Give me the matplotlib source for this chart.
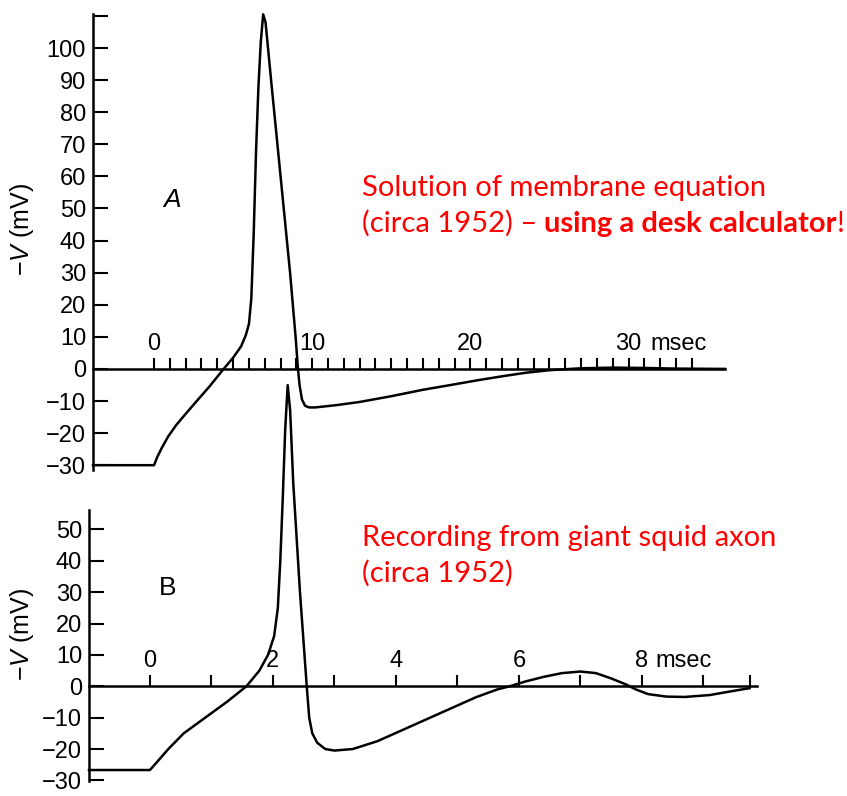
import matplotlib
matplotlib.use("Agg")
import matplotlib.pyplot as plt
from matplotlib.ticker import FixedLocator, FuncFormatter

# panel A: computed action potential (msec, -V in mV)
t_a = [-3.86, 0, 0.2, 0.5, 0.9, 1.4, 2.0, 2.7, 3.5, 4.4, 5.0, 5.5, 5.8, 6.0, 6.15,
       6.3, 6.45, 6.6, 6.75, 6.9, 7.05, 7.4, 7.8, 8.2, 8.6, 8.95, 9.1, 9.2,
       9.35, 9.55, 9.8, 10.2, 11.5, 13, 15, 17, 19, 20.5, 22, 23.5, 25, 27,
       29, 31, 33, 36.1]
v_a = [-30, -30, -27.5, -24.5, -21, -17.5, -14, -10, -5.5, 0, 3.5, 7, 10.5, 14, 22,
       42, 68, 88, 102, 110.5, 108, 90, 70, 50, 30, 10, 0, -5,
       -9.5, -11.5, -12, -12, -11.3, -10.3, -8.5, -6.5, -4.8, -3.5, -2.3, -1.2, -0.4, 0.2,
       0.4, 0.3, 0.1, 0]

# panel B: recorded action potential
t_b = [-0.99, 0, 0.1, 0.3, 0.55, 0.9, 1.25, 1.57, 1.78, 1.92, 2.02, 2.08, 2.12,
       2.16, 2.2, 2.24, 2.28, 2.33, 2.44, 2.55, 2.59, 2.64, 2.72, 2.85, 3.0,
       3.3, 3.7, 4.1, 4.5, 4.9, 5.3, 5.65, 5.85, 6.1, 6.4, 6.7, 7.0, 7.25,
       7.5, 7.75, 7.9, 8.1, 8.4, 8.7, 9.1, 9.45, 9.75]
v_b = [-26.7, -26.7, -24.5, -20, -15, -10, -5, 0, 5, 10, 16, 25, 40,
       60, 82, 96, 88, 65, 30, 0, -10, -15, -18, -20, -20.5,
       -20, -17.5, -14, -10.5, -7, -3.5, -1, 0, 1.5, 3, 4.2, 4.7, 4.2,
       2.5, 0.5, -1, -2.5, -3.3, -3.4, -2.8, -1.6, -0.6]

yticks_a = list(range(-30, 111, 10))
ylabels_a = list(range(-30, 101, 10))
xmajor_a = [0, 10, 20, 30]
yticks_b = list(range(-30, 51, 10))
xmajor_b = [0, 2, 4, 6, 8]

plt.rcParams['font.family'] = ['Liberation Sans', 'DejaVu Sans']
plt.rcParams['mathtext.fontset'] = 'custom'
plt.rcParams['mathtext.it'] = 'Liberation Sans:italic'
plt.rcParams['mathtext.rm'] = 'Liberation Sans'

FS = 17
W, H = 847, 796
fig = plt.figure(figsize=(W / 100, H / 100), dpi=100)


def px_axes(x0, y0, x1, y1):
    # pixel box (left, top, right, bottom) -> figure fraction axes
    return fig.add_axes([x0 / W, 1 - y1 / H, (x1 - x0) / W, (y1 - y0) / H])


def style(ax, yticks, ylabels, xmajor, xminor):
    ax.spines['right'].set_visible(False)
    ax.spines['bottom'].set_visible(False)
    ax.spines['top'].set_position(('data', 0))
    for s in ('top', 'left'):
        ax.spines[s].set_linewidth(1.8)
    ax.xaxis.set_ticks_position('top')
    ax.yaxis.set_ticks_position('left')
    ax.set_xticks(xmajor)
    ax.xaxis.set_minor_locator(FixedLocator(xminor))
    ax.set_yticks(yticks)
    ax.yaxis.set_major_formatter(
        FuncFormatter(lambda v, p: f"{int(round(v))}".replace('-', '\u2212')
                      if int(round(v)) in ylabels else ''))
    ax.tick_params(axis='x', which='both', direction='out', length=8, width=1.5,
                   pad=2, labelsize=FS)
    ax.tick_params(axis='y', direction='in', length=11, width=1.5, pad=5,
                   labelsize=FS)
    ax.patch.set_alpha(0)


# ---- panel A
axA = px_axes(93, 14, 725, 470)
axA.plot(t_a, v_a, color='black', lw=1.8, clip_on=False)
axA.set_xlim(-3.86, 36.1)
axA.set_ylim(-31.5, 110.6)
style(axA, yticks_a, ylabels_a, xmajor_a, list(range(0, 35)))
axA.annotate('msec', xy=(30, 0), xytext=(16, 10), textcoords='offset points',
             ha='left', va='bottom', fontsize=FS)
axA.text(1.14, 52.6, 'A', style='italic', fontsize=19, ha='center', va='center')

# ---- panel B
axB = px_axes(89, 510, 757, 781)
axB.plot(t_b, v_b, color='black', lw=1.8, clip_on=False)
axB.set_xlim(-0.99, 9.87)
axB.set_ylim(-30.2, 56.2)
style(axB, yticks_b, yticks_b, xmajor_b, list(range(0, 10)) + [9.75])
axB.annotate('msec', xy=(8, 0), xytext=(10, 10), textcoords='offset points',
             ha='left', va='bottom', fontsize=FS)
axB.text(0.29, 31.4, 'B', fontsize=19, ha='center', va='center')

# y labels
for yc in (230, 635):
    fig.text(22 / W, 1 - yc / H, '\u2212$V$ (mV)', rotation=90,
             ha='center', va='center', fontsize=18)

# red annotations
red = '#ff0000'
kw = dict(color=red, fontsize=21, family=['Lato', 'DejaVu Sans'])
fig.text(362 / W, 1 - 196 / H, 'Solution of membrane equation',
         va='baseline', ha='left', **kw)
t1 = fig.text(362 / W, 1 - 232 / H, '(circa 1952) \u2013',
              va='baseline', ha='left', **kw)
t2 = plt.annotate('using a desk calculator', xy=(1, 0), xycoords=t1,
                  xytext=(5, 0), textcoords='offset points',
                  va='bottom', ha='left', weight='bold', annotation_clip=False, **kw)
plt.annotate('!', xy=(1, 0), xycoords=t2, va='bottom', ha='left',
             annotation_clip=False, **kw)
fig.text(362 / W, 1 - 546 / H, 'Recording from giant squid axon',
         va='baseline', ha='left', **kw)
fig.text(362 / W, 1 - 582 / H, '(circa 1952)',
         va='baseline', ha='left', **kw)

fig.savefig('out.png', dpi=100)
